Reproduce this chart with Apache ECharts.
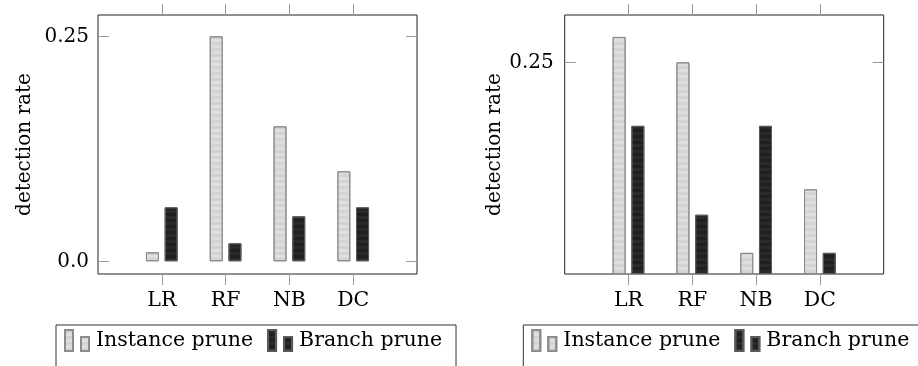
<!DOCTYPE html>
<html>
<head>
<meta charset="utf-8">
<script src="https://cdn.jsdelivr.net/npm/echarts@6/dist/echarts.min.js"></script>
<style>
html,body{margin:0;padding:0;background:#fff;}
#c{width:918px;height:366px;}
</style>
</head>
<body>
<div id="c"></div>
<script>
const categories = ['LR', 'RF', 'NB', 'DC'];
const seriesNames = ['Instance prune', 'Branch prune'];
const instanceLeft = [0.01, 0.25, 0.15, 0.10];
const branchLeft = [0.06, 0.02, 0.05, 0.06];
const instanceRight = [0.28, 0.25, 0.025, 0.10];
const branchRight = [0.175, 0.07, 0.175, 0.025];
const leftTickValues = [0, 0.25];
const leftTickLabels = ['0.0', '0.25'];
const rightTickValues = [0.25];
const rightTickLabels = ['0.25'];
const yNameText = 'detection rate';

const FONT = 'DejaVu Serif';
const axisData = [' '].concat(categories).concat(['  ']);
const pad = arr => [null].concat(arr).concat([null]);
const tickInt = (i) => i > 0 && i < categories.length + 1;

const instStyle = {
  color: '#dedede', borderColor: '#8c8c8c', borderWidth: 1,
  decal: {symbol: 'rect', symbolSize: 1, dashArrayX: [1, 0], dashArrayY: [3, 3], color: 'rgba(0,0,0,0.05)', rotation: 0}
};
const branchStyle = {
  color: '#1f1f1f', borderColor: '#5a5a5a', borderWidth: 1,
  decal: {symbol: 'rect', symbolSize: 1, dashArrayX: [1, 0], dashArrayY: [3, 3], color: 'rgba(255,255,255,0.05)', rotation: 0}
};

function xAxes(gi) {
  return [
    {type: 'category', gridIndex: gi, data: axisData, boundaryGap: false, position: 'bottom',
     axisLine: {show: false, onZero: false}, splitLine: {show: false},
     axisTick: {show: true, inside: false, length: 11, interval: tickInt, lineStyle: {color: '#9a9a9a', width: 1}},
     axisLabel: {show: true, interval: tickInt, margin: 16, fontFamily: FONT, fontSize: 20.5, color: '#000'}},
    {type: 'category', gridIndex: gi, data: axisData, boundaryGap: false, position: 'top',
     axisLine: {show: false, onZero: false}, splitLine: {show: false},
     axisTick: {show: true, inside: false, length: 11, interval: tickInt, lineStyle: {color: '#9a9a9a', width: 1}},
     axisLabel: {show: false}}
  ];
}
function yAxes(gi, min, max, vals, labels, margin, nameGap) {
  const fmt = v => { const k = vals.findIndex(t => Math.abs(t - v) < 1e-9); return k >= 0 ? labels[k] : ''; };
  return [
    {type: 'value', gridIndex: gi, position: 'left', min: min, max: max,
     name: yNameText, nameLocation: 'middle', nameGap: nameGap,
     nameTextStyle: {fontFamily: FONT, fontSize: 20, color: '#000'},
     axisLine: {show: false, onZero: false}, splitLine: {show: false},
     axisTick: {show: true, inside: true, length: 11, customValues: vals, lineStyle: {color: '#9a9a9a'}},
     axisLabel: {show: true, customValues: vals, formatter: fmt, margin: margin, fontFamily: FONT, fontSize: 20, color: '#000'}},
    {type: 'value', gridIndex: gi, position: 'right', min: min, max: max,
     axisLine: {show: false, onZero: false}, splitLine: {show: false},
     axisTick: {show: true, inside: true, length: 11, customValues: vals, lineStyle: {color: '#9a9a9a'}},
     axisLabel: {show: false}}
  ];
}

const legendIcon = 'path://M0,0H8V21H0Z M16,7H24V21H16Z';
function legend(left) {
  return {
    left: left, top: 325, width: 420, orient: 'horizontal',
    data: seriesNames,
    icon: legendIcon, itemWidth: 24, itemHeight: 21, itemGap: 14,
    borderColor: '#333', borderWidth: 1, borderRadius: 0,
    padding: [4, 14, 30, 8],
    textStyle: {fontFamily: FONT, fontSize: 20.5, color: '#000', padding: [0, 0, 0, 2]},
    selectedMode: false
  };
}

const chart = echarts.init(document.getElementById('c'), null, {renderer: 'canvas'});
chart.setOption({
  animation: false,
  aria: {enabled: false, decal: {show: false}},
  grid: [
    {left: 98, top: 15, width: 319, height: 259, show: true, borderColor: '#222', borderWidth: 1, backgroundColor: 'transparent'},
    {left: 564.7, top: 15, width: 319, height: 259, show: true, borderColor: '#222', borderWidth: 1, backgroundColor: 'transparent'}
  ],
  xAxis: xAxes(0).concat(xAxes(1)),
  yAxis: yAxes(0, -0.0141, 0.2737, leftTickValues, leftTickLabels, 9, 63)
    .concat(yAxes(1, 0, 0.3059, rightTickValues, rightTickLabels, 11, 60)),
  legend: [legend(56), legend(523.3)],
  series: [
    {name: seriesNames[0], type: 'bar', xAxisIndex: 0, yAxisIndex: 0, data: pad(instanceLeft), barWidth: 13, barGap: '44%', itemStyle: instStyle},
    {name: seriesNames[1], type: 'bar', xAxisIndex: 0, yAxisIndex: 0, data: pad(branchLeft), barWidth: 13, barGap: '44%', itemStyle: branchStyle},
    {name: seriesNames[0], type: 'bar', xAxisIndex: 2, yAxisIndex: 2, data: pad(instanceRight), barWidth: 13, barGap: '44%', itemStyle: instStyle},
    {name: seriesNames[1], type: 'bar', xAxisIndex: 2, yAxisIndex: 2, data: pad(branchRight), barWidth: 13, barGap: '44%', itemStyle: branchStyle}
  ]
});
</script>
</body>
</html>
